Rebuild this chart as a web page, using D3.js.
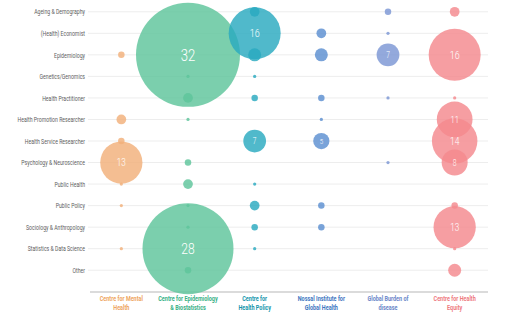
<!DOCTYPE html>
<html>
<head>
<meta charset="utf-8">
<script src="https://cdn.jsdelivr.net/npm/d3@7"></script>
<style>
  html, body { margin: 0; padding: 0; background: #fff; }
  svg { display: block; }
  text { font-family: Roboto, "Open Sans", sans-serif; }
</style>
</head>
<body>
<svg id="chart" width="510" height="329"></svg>
<script>
// Disciplines (rows)
const disciplines = [
  "Ageing & Demography", "(Health) Economist", "Epidemiology", "Genetics/Genomics",
  "Health Practitioner", "Health Promotion Researcher", "Health Service Researcher",
  "Psychology & Neuroscience", "Public Health", "Public Policy",
  "Sociology & Anthropology", "Statistics & Data Science", "Other"
];

// Centres (columns), label lines
const centres = [
  ["Centre for Mental", "Health"],
  ["Centre for Epidemiology", "& Biostatistics"],
  ["Centre for", "Health Policy"],
  ["Nossal Institute for", "Global Health"],
  ["Global Burden of", "disease"],
  ["Centre for Health", "Equity"]
];

const centreColors = ["#f2b07a", "#5ec49b", "#2aaabf", "#5b8fd1", "#7b96d4", "#f4898d"];
const labelColors  = ["#eea562", "#37b085", "#1395ab", "#3e76bf", "#6a86c8", "#ee7a80"];

// Counts per centre, one value per discipline (0 = none)
const mentalHealth  = [0, 0, 2, 0, 0, 3, 2, 13, 1, 1, 0, 1, 0];
const epiBiostat    = [0, 0, 32, 1, 3, 1, 0, 2, 3, 1, 1, 28, 2];
const healthPolicy  = [3, 16, 4, 1, 2, 0, 7, 0, 1, 3, 2, 1, 0];
const nossal        = [0, 3, 4, 0, 2, 1, 5, 0, 0, 2, 2, 0, 0];
const burden        = [2, 1, 7, 0, 1, 0, 0, 1, 0, 0, 0, 0, 0];
const healthEquity  = [3, 0, 16, 0, 1, 11, 14, 8, 0, 2, 13, 1, 4];

const seriesValues = [mentalHealth, epiBiostat, healthPolicy, nossal, burden, healthEquity];

const points = [];
seriesValues.forEach((vals, ci) => {
  vals.forEach((v, ri) => {
    if (v > 0) points.push({ centre: ci, discipline: disciplines[ri], value: v });
  });
});

const svg = d3.select("#chart");
const plotLeft = 88, plotRight = 488, plotTop = 1, plotBottom = 281, axisY = 292;
const squeeze = 0.74;   // horizontal condensing of the type
const rowSqueeze = 0.68;

const x = d3.scaleBand().domain(d3.range(centres.length)).range([plotLeft, plotRight]);
const y = d3.scalePoint().domain(disciplines).range([plotTop, plotBottom]).padding(0.5);
const r = d3.scaleLinear().domain([0, 32]).range([0, 52]);

// Row gridlines
svg.append("g").selectAll("line").data(disciplines).join("line")
  .attr("x1", plotLeft).attr("x2", plotRight)
  .attr("y1", d => y(d)).attr("y2", d => y(d))
  .attr("stroke", "#ededed").attr("stroke-width", 1);

// Row labels
svg.append("g").selectAll("text").data(disciplines).join("text")
  .attr("transform", d => `translate(${plotLeft - 3},${y(d)}) scale(${rowSqueeze},1)`)
  .attr("dy", "0.35em")
  .attr("text-anchor", "end")
  .attr("font-size", 7.6)
  .attr("fill", "#606060")
  .text(d => d);

// Bottom axis line
svg.append("line")
  .attr("x1", plotLeft + 2).attr("x2", plotRight)
  .attr("y1", axisY).attr("y2", axisY)
  .attr("stroke", "#cfcfcf").attr("stroke-width", 1.5);

// Centre labels
const cl = svg.append("g").selectAll("text").data(centres).join("text")
  .attr("transform", (d, i) => `translate(${x(i) + x.bandwidth() / 2},301) scale(${squeeze},1)`)
  .attr("text-anchor", "middle")
  .attr("font-size", 7.4)
  .attr("font-weight", "bold")
  .attr("fill", (d, i) => labelColors[i]);
cl.selectAll("tspan").data(d => d).join("tspan")
  .attr("x", 0)
  .attr("dy", (d, i) => i === 0 ? 0 : 9)
  .text(d => d);

// Bubbles
const cx = d => x(d.centre) + x.bandwidth() / 2;
svg.append("g").selectAll("circle").data(points).join("circle")
  .attr("cx", cx)
  .attr("cy", d => y(d.discipline))
  .attr("r", d => r(d.value))
  .attr("fill", d => centreColors[d.centre])
  .attr("fill-opacity", 0.82);

// Value labels on the larger bubbles
svg.append("g").selectAll("text").data(points.filter(d => d.value >= 5)).join("text")
  .attr("transform", d => `translate(${cx(d)},${y(d.discipline)}) scale(${squeeze + 0.06},1)`)
  .attr("dy", "0.36em")
  .attr("text-anchor", "middle")
  .attr("fill", "#fff")
  .attr("font-weight", 300)
  .attr("font-size", d => 6 + 0.2 * r(d.value))
  .text(d => d.value);
</script>
</body>
</html>
